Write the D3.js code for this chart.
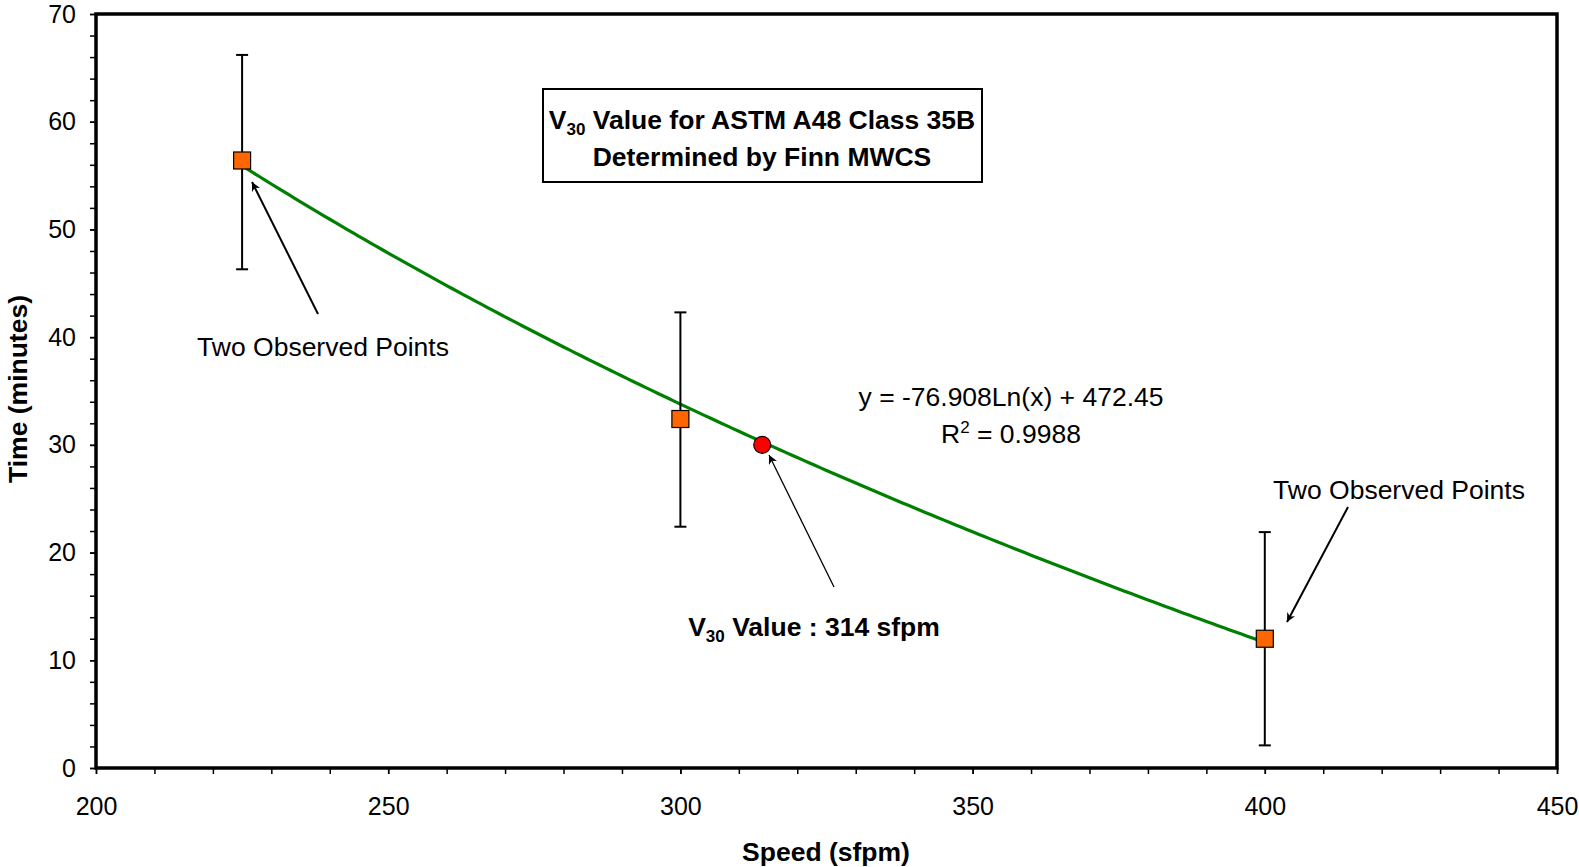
<!DOCTYPE html>
<html>
<head>
<meta charset="utf-8">
<script src="https://cdn.jsdelivr.net/npm/d3@7"></script>
<style>
  body { margin: 0; background: #fff; }
  text { font-family: "Liberation Sans", Arial, sans-serif; }
</style>
</head>
<body>
<div id="chart"></div>
<script>
// Observed points (speed in sfpm, time in minutes) with error bars
const speeds = [225, 300, 400];
const times = [56.4, 32.4, 12.0];
const errUpper = [66.2, 42.3, 21.9];
const errLower = [46.3, 22.4, 2.1];

// V30 point
const v30Speed = 314;
const v30Time = 30;

// Logarithmic trendline from the chart: y = a*ln(x) + b
const trendA = -76.908;
const trendB = 472.45;

const xTicks = [200, 250, 300, 350, 400, 450];
const yTicks = [0, 10, 20, 30, 40, 50, 60, 70];

const W = 1579, H = 867;
const margin = { top: 14, right: 22, bottom: 99, left: 96 };
const width = W - margin.left - margin.right,
      height = H - margin.top - margin.bottom;

const svg = d3.select("#chart").append("svg")
    .attr("width", W)
    .attr("height", H);

const defs = svg.append("defs");
defs.append("marker")
    .attr("id", "arrow")
    .attr("viewBox", "0 0 10 10")
    .attr("refX", 10).attr("refY", 5)
    .attr("markerWidth", 9).attr("markerHeight", 9)
    .attr("markerUnits", "userSpaceOnUse")
    .attr("orient", "auto")
    .append("path")
    .attr("d", "M0,0 L10,5 L0,10 L3,5 Z")
    .attr("fill", "#000");

const g = svg.append("g")
    .attr("transform", `translate(${margin.left},${margin.top})`);

const x = d3.scaleLinear().domain([200, 450]).range([0, width]);
const y = d3.scaleLinear().domain([0, 70]).range([height, 0]);

// Minor ticks
const xAxisMinor = d3.axisBottom(x).tickValues(d3.range(200, 451, 10)).tickSize(6).tickFormat("");
const yAxisMinor = d3.axisLeft(y).tickValues(d3.range(0, 71, 2)).tickSize(6).tickFormat("");

g.append("g").attr("transform", `translate(0,${height})`).call(xAxisMinor)
    .call(a => a.select(".domain").remove())
    .selectAll("line").attr("stroke", "#000").attr("stroke-width", 1.5);
g.append("g").call(yAxisMinor)
    .call(a => a.select(".domain").remove())
    .selectAll("line").attr("stroke", "#000").attr("stroke-width", 1.5);

// Major ticks with labels
const xAxis = g.append("g").attr("transform", `translate(0,${height})`)
    .call(d3.axisBottom(x).tickValues(xTicks).tickSize(6).tickPadding(23));
xAxis.select(".domain").remove();
xAxis.selectAll("line").attr("stroke", "#000").attr("stroke-width", 1.5);
xAxis.selectAll("text").style("font-size", "25px").attr("fill", "#000")
    .style("font-family", "Liberation Sans, Arial, sans-serif");

const yAxis = g.append("g")
    .call(d3.axisLeft(y).tickValues(yTicks).tickSize(6).tickPadding(14));
yAxis.select(".domain").remove();
yAxis.selectAll("line").attr("stroke", "#000").attr("stroke-width", 1.5);
yAxis.selectAll("text").style("font-size", "25px").attr("fill", "#000")
    .style("font-family", "Liberation Sans, Arial, sans-serif");

// Plot frame
g.append("rect")
    .attr("x", 0).attr("y", 0)
    .attr("width", width).attr("height", height)
    .attr("fill", "none")
    .attr("stroke", "#000")
    .attr("stroke-width", 3.5);

// Trendline
const trendXs = d3.range(speeds[0], speeds[speeds.length - 1] + 0.5, 1);
const line = d3.line()
    .x(d => x(d))
    .y(d => y(trendA * Math.log(d) + trendB));
g.append("path")
    .datum(trendXs)
    .attr("d", line)
    .attr("fill", "none")
    .attr("stroke", "#008000")
    .attr("stroke-width", 3.2);

// Error bars
const points = speeds.map((s, i) => ({ s, t: times[i], hi: errUpper[i], lo: errLower[i] }));
const eb = g.selectAll(".eb").data(points).enter().append("g").attr("class", "eb");
eb.append("line")
    .attr("x1", d => x(d.s)).attr("x2", d => x(d.s))
    .attr("y1", d => y(d.hi)).attr("y2", d => y(d.lo))
    .attr("stroke", "#000").attr("stroke-width", 2);
eb.append("line")
    .attr("x1", d => x(d.s) - 6).attr("x2", d => x(d.s) + 6)
    .attr("y1", d => y(d.hi)).attr("y2", d => y(d.hi))
    .attr("stroke", "#000").attr("stroke-width", 2);
eb.append("line")
    .attr("x1", d => x(d.s) - 6).attr("x2", d => x(d.s) + 6)
    .attr("y1", d => y(d.lo)).attr("y2", d => y(d.lo))
    .attr("stroke", "#000").attr("stroke-width", 2);

// Square markers
const sz = 17;
g.selectAll(".pt").data(points).enter().append("rect")
    .attr("class", "pt")
    .attr("x", d => x(d.s) - sz / 2)
    .attr("y", d => y(d.t) - sz / 2)
    .attr("width", sz).attr("height", sz)
    .attr("fill", "#FF6600")
    .attr("stroke", "#000")
    .attr("stroke-width", 1.2);

// V30 circle
g.append("circle")
    .attr("cx", x(v30Speed)).attr("cy", y(v30Time))
    .attr("r", 8.5)
    .attr("fill", "#FF0000")
    .attr("stroke", "#000")
    .attr("stroke-width", 1.2);

// Title box
svg.append("rect")
    .attr("x", 543).attr("y", 89)
    .attr("width", 439).attr("height", 93)
    .attr("fill", "#fff")
    .attr("stroke", "#000")
    .attr("stroke-width", 2);

const fs = "26.5px", fsSub = "17px";

const t1 = svg.append("text")
    .attr("x", 762).attr("y", 129)
    .attr("text-anchor", "middle")
    .style("font-size", fs).style("font-weight", "bold");
t1.append("tspan").text("V");
t1.append("tspan").attr("dy", 6).style("font-size", fsSub).text("30");
t1.append("tspan").attr("dy", -6).text(" Value for ASTM A48 Class 35B");

svg.append("text")
    .attr("x", 762).attr("y", 166)
    .attr("text-anchor", "middle")
    .style("font-size", fs).style("font-weight", "bold")
    .text("Determined by Finn MWCS");

// Equation
svg.append("text")
    .attr("x", 1011).attr("y", 406)
    .attr("text-anchor", "middle")
    .style("font-size", fs)
    .text("y = -76.908Ln(x) + 472.45");
const r2 = svg.append("text")
    .attr("x", 1011).attr("y", 443)
    .attr("text-anchor", "middle")
    .style("font-size", fs);
r2.append("tspan").text("R");
r2.append("tspan").attr("dy", -10).style("font-size", fsSub).text("2");
r2.append("tspan").attr("dy", 10).text(" = 0.9988");

// Annotations
svg.append("text")
    .attr("x", 323).attr("y", 356)
    .attr("text-anchor", "middle")
    .style("font-size", fs)
    .text("Two Observed Points");
svg.append("text")
    .attr("x", 1399).attr("y", 499)
    .attr("text-anchor", "middle")
    .style("font-size", fs)
    .text("Two Observed Points");

const v30 = svg.append("text")
    .attr("x", 814).attr("y", 636)
    .attr("text-anchor", "middle")
    .style("font-size", fs).style("font-weight", "bold");
v30.append("tspan").text("V");
v30.append("tspan").attr("dy", 6).style("font-size", fsSub).text("30");
v30.append("tspan").attr("dy", -6).text(" Value : 314 sfpm");

// Arrows
const arrows = [
    [318, 314, 252, 182, 2],
    [1348, 507, 1287, 622, 2],
    [834, 587, 769, 455, 1.3]
];
svg.selectAll(".arr").data(arrows).enter().append("line")
    .attr("class", "arr")
    .attr("x1", d => d[0]).attr("y1", d => d[1])
    .attr("x2", d => d[2]).attr("y2", d => d[3])
    .attr("stroke", "#000")
    .attr("stroke-width", d => d[4])
    .attr("marker-end", "url(#arrow)");

// Axis titles
svg.append("text")
    .attr("x", 826).attr("y", 861)
    .attr("text-anchor", "middle")
    .style("font-size", fs).style("font-weight", "bold")
    .text("Speed (sfpm)");
svg.append("text")
    .attr("transform", "translate(27,389) rotate(-90)")
    .attr("text-anchor", "middle")
    .style("font-size", fs).style("font-weight", "bold")
    .text("Time (minutes)");
</script>
</body>
</html>
